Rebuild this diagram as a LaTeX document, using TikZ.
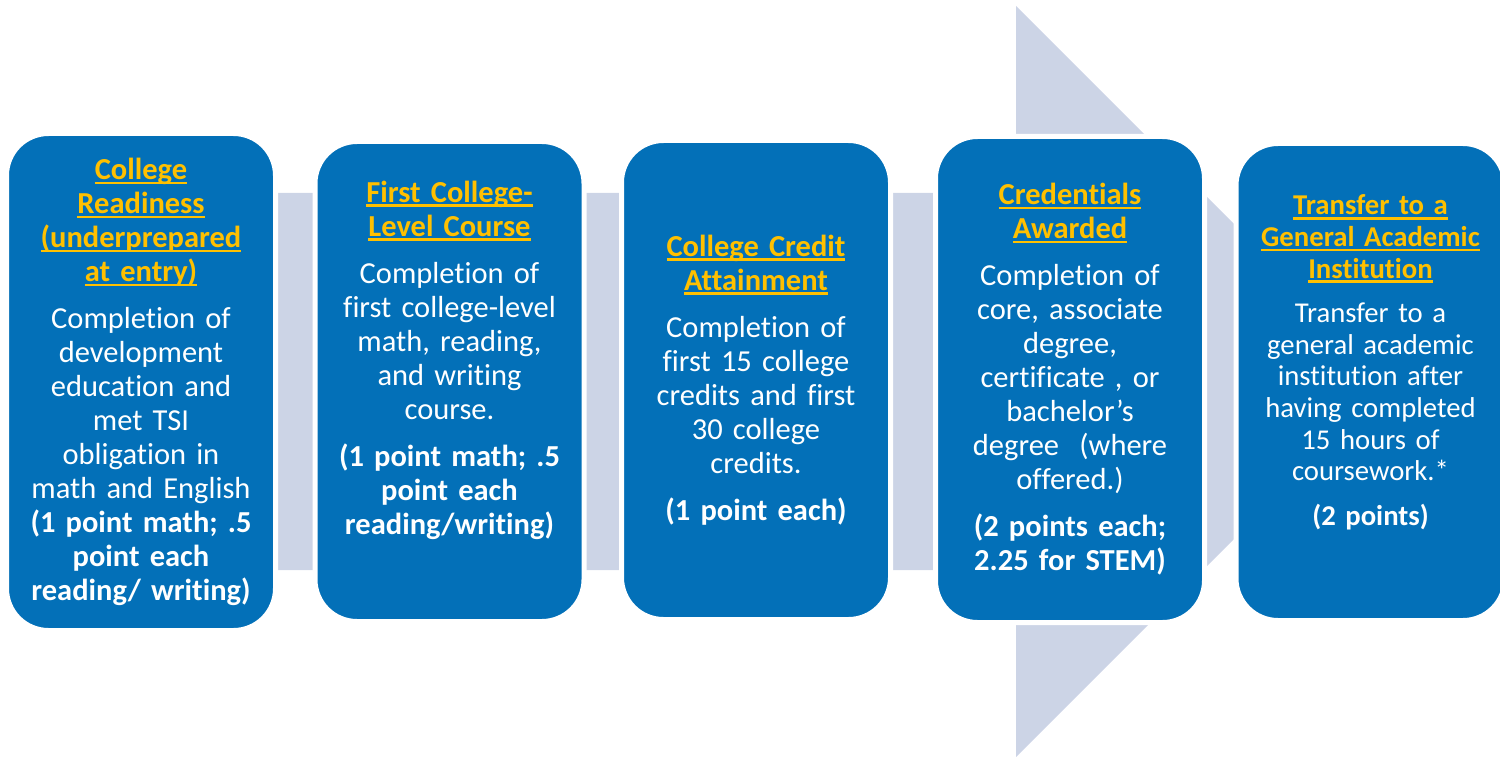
\documentclass[tikz,border=0pt]{standalone}
\usepackage{fontspec}
\setmainfont{Carlito}[Ligatures=NoCommon]
\usetikzlibrary{backgrounds}
\definecolor{stageblue}{RGB}{3,112,184}
\definecolor{flowgray}{RGB}{204,212,230}
\definecolor{headgold}{RGB}{255,192,0}
\newcommand{\stgw}{269pt}
\newcommand{\stgrim}{5pt}
\newcommand{\stggap}{13pt}
\newcommand{\flwtop}{193}
\newcommand{\flwbot}{570}
\newcommand{\flwhx}{1016}
\newcommand{\ulined}[1]{\leavevmode\setbox0\hbox{#1}%
  \rlap{\rule[-4.6pt]{\wd0}{2.6pt}}\box0}
\newcommand{\stghead}[1]{{\color{headgold}\bfseries\ulined{#1}}}
\tikzset{
  stage/.style={rounded corners=42pt, fill=stageblue, draw=white,
    line width=\stgrim, text=white, align=center, text width=252pt,
    minimum width=\stgw, inner sep=0pt,
    font=\fontsize{30.5}{34}\selectfont},
  stagesmall/.style={stage, font=\fontsize{28.7}{31.6}\selectfont}
}

\begin{document}
\begin{tikzpicture}[x=1pt,y=-1pt]
  \useasboundingbox (0,0) rectangle (1500,757);

  \node[stage, minimum height=497pt] (rdy) at (141,382) {%
    \stghead{College}\\ \stghead{Readiness}\\
    \stghead{(underprepared}\\ \stghead{at entry)}\\[\stggap]
    Completion of\\ development\\ education and\\ met TSI\\
    obligation in\\ math and English\\
    \bfseries (1 point math; .5\\ point each\\ reading/ writing)};
  \node[stage, minimum height=480pt] (fcl) at (449.5,381.5) {%
    \stghead{First College-}\\ \stghead{Level Course}\\[\stggap]
    Completion of\\ first college-level\\ math, reading,\\
    and writing\\ course.\\[\stggap]
    \bfseries (1 point math; .5\\ point each\\ reading/writing)\\[14pt]
    \mbox{}};
  \node[stage, minimum height=479pt] (cca) at (756,380) {%
    \stghead{College Credit}\\ \stghead{Attainment}\\[\stggap]
    Completion of\\ first 15 college\\ credits and first\\
    30 college\\ credits.\\[\stggap]
    \bfseries (1 point each)};
  \node[stage, minimum height=486pt] (crd) at (1070,379.5) {%
    \stghead{Credentials}\\ \stghead{Awarded}\\[\stggap]
    Completion of\\ core, associate\\ degree,\\ certificate , or\\
    bachelor’s\\ degree~ (where\\ offered.)\\[\stggap]
    \bfseries (2 points each;\\ 2.25 for STEM)};
  \node[stagesmall, minimum height=477pt] (trf) at (1370.5,382) {%
    \stghead{Transfer to a}\\ \stghead{General Academic}\\
    \stghead{Institution}\\[\stggap]
    Transfer to a\\ general academic\\ institution after\\
    having completed\\ 15 hours of\\ coursework.*\\[\stggap]
    \bfseries (2 points)\\[12pt]
    \mbox{}};

  \begin{scope}[on background layer]
    \fill[flowgray] (60,\flwtop) -- (\flwhx,\flwtop) -- (\flwhx,6)
      -- (1391.5,381.5) -- (\flwhx,757) -- (\flwhx,\flwbot)
      -- (60,\flwbot) -- cycle;
  \end{scope}
\end{tikzpicture}
\end{document}
